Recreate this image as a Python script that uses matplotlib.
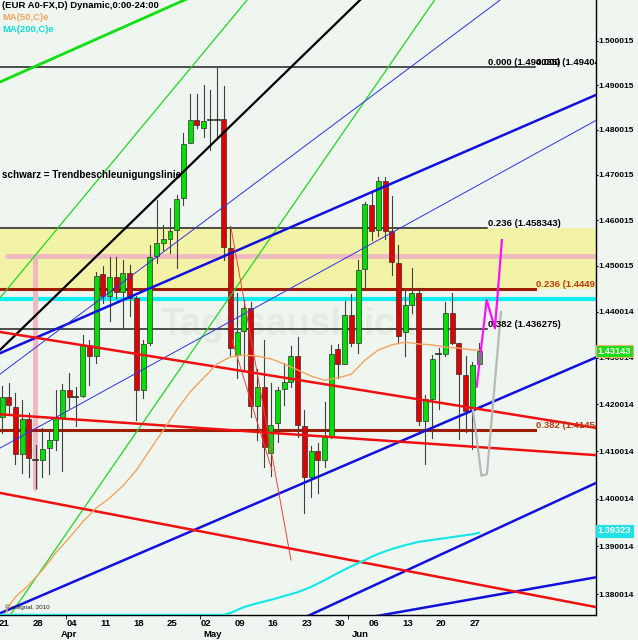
import matplotlib
matplotlib.use('Agg')
import matplotlib.pyplot as plt
from matplotlib.ticker import FixedLocator, FixedFormatter, NullLocator

plt.rcParams['font.family'] = ['Liberation Sans', 'DejaVu Sans']
plt.rcParams['font.weight'] = 'bold'

# ---------------- data ----------------
opens = [1.4173, 1.4217, 1.4195, 1.4095, 1.4168, 1.4082, 1.4081, 1.4107, 1.4124, 1.4172,
         1.4232, 1.4216, 1.4218, 1.4328, 1.4303, 1.4482, 1.4433, 1.4476, 1.4443, 1.4485,
         1.4429, 1.4231, 1.4332, 1.4522, 1.4550, 1.4559, 1.4579, 1.4648, 1.4771, 1.4822,
         1.4804, 1.4821, 1.4822, 1.4824, 1.4538, 1.4307, 1.4357, 1.4408, 1.4196, 1.4238,
         1.4097, 1.4160, 1.4234, 1.4249, 1.4303, 1.4154, 1.4046, 1.4100, 1.4081, 1.4131,
         1.4319, 1.4287, 1.4393, 1.4332, 1.4492, 1.4633, 1.4579, 1.4686, 1.4575, 1.4506,
         1.4355, 1.4415, 1.4441, 1.4164, 1.4212, 1.4309, 1.4309, 1.4398, 1.4333, 1.4264,
         1.4189, 1.4287]
highs = [1.4240, 1.4246, 1.4225, 1.4209, 1.4181, 1.4113, 1.4150, 1.4148, 1.4232, 1.4244,
         1.4268, 1.4238, 1.4350, 1.4338, 1.4487, 1.4500, 1.4520, 1.4520, 1.4513, 1.4502,
         1.4434, 1.4339, 1.4545, 1.4644, 1.4590, 1.4626, 1.4655, 1.4793, 1.4880, 1.4880,
         1.4901, 1.4889, 1.4939, 1.4899, 1.4586, 1.4440, 1.4426, 1.4422, 1.4276, 1.4339,
         1.4247, 1.4238, 1.4289, 1.4326, 1.4345, 1.4189, 1.4111, 1.4117, 1.4206, 1.4328,
         1.4330, 1.4424, 1.4438, 1.4513, 1.4640, 1.4659, 1.4695, 1.4695, 1.4652, 1.4545,
         1.4447, 1.4496, 1.4451, 1.4220, 1.4307, 1.4321, 1.4422, 1.4440, 1.4333, 1.4303,
         1.4292, 1.4333]
lows = [1.4139, 1.4181, 1.4074, 1.4054, 1.4045, 1.4022, 1.4045, 1.4052, 1.4102, 1.4059,
        1.4192, 1.4153, 1.4216, 1.4242, 1.4289, 1.4419, 1.4379, 1.4430, 1.4365, 1.4390,
        1.4166, 1.4214, 1.4328, 1.4506, 1.4535, 1.4527, 1.4495, 1.4634, 1.4770, 1.4803,
        1.4785, 1.4756, 1.4780, 1.4513, 1.4307, 1.4256, 1.4274, 1.4173, 1.4124, 1.4066,
        1.4047, 1.4120, 1.4199, 1.4238, 1.4131, 1.3969, 1.4003, 1.4012, 1.4066, 1.4128,
        1.4256, 1.4286, 1.4325, 1.4310, 1.4451, 1.4556, 1.4564, 1.4559, 1.4480, 1.4333,
        1.4303, 1.4397, 1.4156, 1.4074, 1.4128, 1.4191, 1.4303, 1.4330, 1.4126, 1.4142,
        1.4106, 1.4287]
closes = [1.4217, 1.4199, 1.4095, 1.4168, 1.4085, 1.4081, 1.4106, 1.4124, 1.4170, 1.4230,
          1.4215, 1.4215, 1.4328, 1.4303, 1.4477, 1.4433, 1.4476, 1.4443, 1.4484, 1.4429,
          1.4231, 1.4330, 1.4520, 1.4549, 1.4559, 1.4577, 1.4646, 1.4769, 1.4822, 1.4810,
          1.4819, 1.4821, 1.4824, 1.4540, 1.4321, 1.4355, 1.4408, 1.4196, 1.4238, 1.4109,
          1.4157, 1.4232, 1.4248, 1.4303, 1.4156, 1.4046, 1.4100, 1.4081, 1.4130, 1.4309,
          1.4287, 1.4393, 1.4332, 1.4490, 1.4635, 1.4577, 1.4686, 1.4577, 1.4509, 1.4348,
          1.4415, 1.4441, 1.4164, 1.4211, 1.4297, 1.4309, 1.4398, 1.4333, 1.4265, 1.4186,
          1.4285, 1.4314]

date_idx = [0, 5, 10, 15, 20, 25, 30, 35, 40, 45, 50, 55, 60, 65, 70]
date_labels = ['21', '28', '04', '11', '18', '25', '02', '09', '16', '23', '30', '06', '13', '20', '27']
month_pos = [10.0, 31.4, 53.3]
month_labels = ['Apr', 'May', 'Jun']
month_bounds = [9.5, 29.5, 51.5]

ytick_vals = [1.380014, 1.390014, 1.400014, 1.410014, 1.420014, 1.430014, 1.440014,
              1.450015, 1.460015, 1.470015, 1.480015, 1.490015, 1.500015]
ytick_labels = ['1.380014', '1.390014', '1.400014', '1.410014', '1.420014', '1.430014', '1.440014',
                '1.450015', '1.460015', '1.470015', '1.480015', '1.490015', '1.500015']

ma50_idx = [0, 1, 2, 4, 6, 8, 10, 12, 14, 16, 18, 20, 22, 24, 26, 28, 30, 32, 34, 36, 38, 40,
            42, 44, 46, 48, 50, 52, 54, 56, 58, 60, 62, 64, 66, 68, 70, 71]
ma50_val = [1.3744, 1.3775, 1.3794, 1.3819, 1.3850, 1.3886, 1.3917, 1.3951, 1.3980, 1.4001,
            1.4027, 1.4060, 1.4103, 1.4145, 1.4188, 1.4227, 1.4257, 1.4287, 1.4302, 1.4306,
            1.4304, 1.4298, 1.4287, 1.4274, 1.4261, 1.4252, 1.4257, 1.4265, 1.4295, 1.4317,
            1.4328, 1.4334, 1.4330, 1.4328, 1.4323, 1.4321, 1.4317, 1.4317]
ma200_idx = [-1, 33, 34, 36, 38, 40, 42, 44, 46, 48, 50, 52, 54, 56, 58, 60, 62, 64, 66, 68, 70, 71]
ma200_val = [1.3757, 1.3757, 1.3761, 1.3773, 1.3781, 1.3788, 1.3796, 1.3804, 1.3815, 1.3829,
             1.3844, 1.3858, 1.3871, 1.3884, 1.3894, 1.3902, 1.3909, 1.3913, 1.3917, 1.3921,
             1.3925, 1.3928]

# trend lines: (index0, price0, index1, price1)
green_thick = (-0.3, 1.4907, 29.46, 1.5108)
green_thin = [(-0.3, 1.4430, 36.46, 1.5092), (1.24, 1.3757, 64.36, 1.5092)]
black_trend = (-0.3, 1.4317, 53.27, 1.5092)
blue_thick = [(-0.3, 1.4310, 88.4, 1.4878), (-0.3, 1.3760, 88.4, 1.4301),
              (41.37, 1.3728, 88.4, 1.4033), (54.76, 1.3752, 88.4, 1.3835)]
blue_thin = [(-0.3, 1.4107, 88.4, 1.4821), (-0.3, 1.4265, 74.11, 1.5092)]
red_thick = [(-0.3, 1.4356, 88.4, 1.4150), (-0.3, 1.4179, 88.4, 1.4092),
             (-0.3, 1.4012, 88.4, 1.3773)]
red_thin = [(34.08, 1.4583, 43.0, 1.3871), (34.23, 1.4339, 40.18, 1.4060)]

fib_black_val = [1.4940, 1.458343, 1.436275]
fib_black_end = [79.3, 72.17, 72.17]
fib_black_txt = ['0.000 (1.494035)', '0.236 (1.458343)', '0.382 (1.436275)']
fib_brown_val = [1.44491, 1.41454]
fib_brown_txt = ['0.236 (1.44491)', '0.382 (1.41454)']
cyan_level = 1.44274
pink_level = 1.45212
pink_x = 4.84
pink_bottom = 1.40222
pink_start = 0.74

magenta_x = [70.64, 72.13, 73.36, 74.4]
magenta_y = [1.4238, 1.4425, 1.4364, 1.4556]
gray_x = [70.09, 71.35, 72.17, 74.25]
gray_y = [1.4188, 1.4048, 1.4052, 1.4399]

last_close_txt = '1.43143'
last_close = 1.43143
ma200_last_txt = '1.39323'
ma200_last = 1.39323

# ---------------- figure ----------------
BG = '#eff5ef'
fig = plt.figure(figsize=(6.38, 6.40), dpi=100, facecolor=BG)
ax = fig.add_axes([0, 25 / 640, 596 / 638, 615 / 640], facecolor=BG)
ax.set_yscale('log')
ax.set_ylim(1.37566, 1.50923)
ax.set_xlim(-0.3, 88.4)

# yellow zone
ax.axhspan(fib_brown_val[0], fib_black_val[1], color='#f3f3a8', zorder=1, lw=0)

# watermark
ax.text(42.7, 1.4371, 'Tagesausblick', fontsize=27, color='#e3ebe3', ha='center',
        va='center', zorder=1.5, fontweight='bold')

# horizontal levels
ax.axhline(cyan_level, color='#10eef0', lw=3.0, zorder=2)
ax.plot([pink_start, 88.4], [pink_level, pink_level], color='#f0b8c0', lw=3.4,
        solid_capstyle='round', zorder=2)
ax.plot([pink_x, pink_x], [pink_level, pink_bottom], color='#f0b8c0', lw=3.6,
        solid_capstyle='round', zorder=2)
for v, e, t in zip(fib_black_val, fib_black_end, fib_black_txt):
    ax.plot([-0.3, e], [v, v], color='#202020', lw=1.1, zorder=2.2)
    ax.text(72.3, v, t, fontsize=6.8, color='black', va='bottom', ha='left',
            zorder=6, clip_on=True)
ax.text(79.4, fib_black_val[0], '0.000 (1.49404)', fontsize=6.8, color='black',
        va='bottom', ha='left', zorder=6, clip_on=True)
for v, t in zip(fib_brown_val, fib_brown_txt):
    ax.plot([-0.3, 79.3], [v, v], color='#a01e00', lw=2.2, zorder=2.2)
    ax.text(79.4, v, t, fontsize=6.8, color='#b83a10', va='bottom', ha='left',
            zorder=6, clip_on=True)

# candles
bw = 0.74
for i, (o, h, l, c) in enumerate(zip(opens, highs, lows, closes)):
    ax.plot([i, i], [l, h], color='#404040', lw=0.8, zorder=3)
    if abs(c - o) < 0.00025:
        ax.plot([i - bw / 2, i + bw / 2], [o, o], color='#203020', lw=1.2, zorder=3.1)
    else:
        col = '#00e000' if c > o else '#e00000'
        ax.bar(i, abs(c - o), bottom=min(o, c), width=bw, color=col,
               edgecolor='#303030', lw=0.5, zorder=3.1)

# trend lines
def seg(t, **kw):
    ax.plot([t[0], t[2]], [t[1], t[3]], **kw)

seg(green_thick, color='#10e010', lw=2.0, zorder=4)
for t in green_thin:
    seg(t, color='#20d820', lw=0.9, zorder=4)
seg(black_trend, color='black', lw=1.6, zorder=4)
for t in blue_thick:
    seg(t, color='#1010e0', lw=1.8, zorder=4)
for t in blue_thin:
    seg(t, color='#3030e8', lw=0.7, zorder=4)
for t in red_thick:
    seg(t, color='#f01010', lw=1.8, zorder=4)
for t in red_thin:
    seg(t, color='#f04040', lw=0.7, zorder=4)

# moving averages
ax.plot(ma50_idx, ma50_val, color='#f4a460', lw=1.0, zorder=4.2)
ax.plot(ma200_idx, ma200_val, color='#10e8e8', lw=1.5, zorder=4.2)

# projections
ax.plot(gray_x, gray_y, color='#b8b8b8', lw=1.6, zorder=5)
ax.plot(magenta_x, magenta_y, color='#ff10ff', lw=1.6, zorder=5.1)

# axes cosmetics
for s in ['left', 'top']:
    ax.spines[s].set_visible(False)
for s in ['right', 'bottom']:
    ax.spines[s].set_color('black')
    ax.spines[s].set_linewidth(1.0)

ax.yaxis.tick_right()
ax.yaxis.set_major_locator(FixedLocator(ytick_vals))
ax.yaxis.set_major_formatter(FixedFormatter(ytick_labels))
ax.yaxis.set_minor_locator(NullLocator())
ax.tick_params(axis='y', which='major', direction='out', length=1.5, pad=0.5,
               labelsize=6.0, colors='black')

ax.set_xticks([d + 0.35 for d in date_idx])
ax.set_xticklabels(date_labels)
ax.set_xticks(month_bounds, minor=True)
ax.tick_params(axis='x', which='major', length=0, pad=3, labelsize=6.8)
ax.tick_params(axis='x', which='minor', length=3, direction='out')
for m, t in zip(month_pos, month_labels):
    ax.text(m, -0.031, t, transform=ax.get_xaxis_transform(), ha='center',
            va='center', fontsize=6.8, clip_on=False)

# price boxes
ax.text(1.003, last_close, last_close_txt, transform=ax.get_yaxis_transform(),
        va='center', ha='left', color='white', fontsize=6.6, clip_on=False, zorder=7,
        bbox=dict(boxstyle='square,pad=0.15', fc='#18e018', ec='#f0b070', lw=0.8))
ax.text(1.003, ma200_last, ma200_last_txt, transform=ax.get_yaxis_transform(),
        va='center', ha='left', color='white', fontsize=6.6, clip_on=False, zorder=7,
        bbox=dict(boxstyle='square,pad=0.15', fc='#20e0e8', ec='#20e0e8', lw=0.8))

# header texts
fig.text(2 / 638, 1 - 6 / 640, '(EUR A0-FX,D) Dynamic,0:00-24:00', fontsize=6.8,
         color='black', va='center', ha='left')
fig.text(2 / 638, 1 - 17 / 640, 'MA(50,C)e', fontsize=6.8, color='#f4a460',
         va='center', ha='left')
fig.text(2 / 638, 1 - 29.5 / 640, 'MA(200,C)e', fontsize=6.8, color='#10dcdc',
         va='center', ha='left')
fig.text(2 / 638, 1 - 175 / 640, 'schwarz = Trendbeschleunigungslinie', fontsize=7.1,
         color='black', va='center', ha='left', zorder=8)
fig.text(5 / 638, 1 - 607 / 640, '\u00a9 eSignal, 2010', fontsize=4.5,
         color='#202020', va='center', ha='left', fontweight='normal')

fig.savefig('out.png', dpi=100, facecolor=BG)
